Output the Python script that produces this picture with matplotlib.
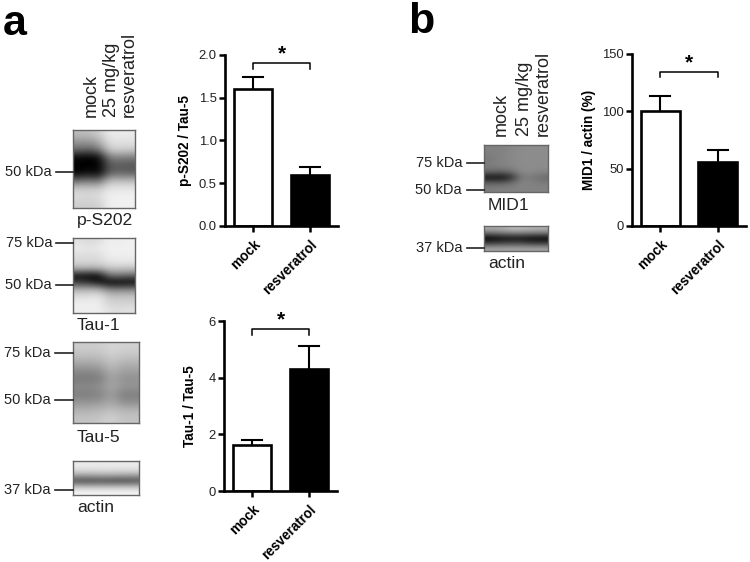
import numpy as np
from matplotlib import pyplot as plt

plt.rcParams['font.family'] = ['Liberation Sans', 'DejaVu Sans']

W, H = 750, 562

categories = ['mock', 'resveratrol']

ps202_vals = [1.6, 0.6]
ps202_tops = [1.74, 0.69]
tau1_vals = [1.62, 4.3]
tau1_tops = [1.8, 5.13]
mid1_vals = [100, 56]
mid1_tops = [113, 66]

# blot densities, 0 = black, 255 = white
blot_ps202 = [
    [190, 190, 205, 235, 235, 235],
    [150, 150, 170, 225, 225, 225],
    [110, 100, 120, 205, 210, 205],
    [5, 0, 5, 125, 130, 125],
    [0, 0, 0, 85, 90, 85],
    [0, 15, 0, 95, 100, 95],
    [110, 120, 110, 190, 190, 190],
    [205, 205, 205, 230, 230, 230],
    [220, 215, 220, 240, 240, 240],
    [205, 205, 205, 240, 240, 240],
]
blot_tau1 = [
    [225, 215, 220, 240, 235, 240],
    [235, 230, 235, 240, 240, 240],
    [220, 220, 220, 238, 238, 238],
    [215, 215, 215, 230, 230, 230],
    [175, 175, 175, 195, 195, 195],
    [15, 5, 5, 110, 115, 100],
    [60, 50, 20, 0, 0, 5],
    [175, 175, 175, 130, 130, 130],
    [220, 220, 230, 195, 195, 195],
    [238, 238, 238, 210, 210, 210],
    [238, 238, 238, 225, 220, 225],
]
blot_tau5 = [
    [205, 205, 205, 215, 210, 210],
    [195, 195, 195, 210, 200, 200],
    [170, 170, 175, 195, 180, 180],
    [140, 140, 145, 180, 160, 160],
    [120, 120, 125, 165, 145, 145],
    [140, 140, 145, 170, 150, 150],
    [125, 125, 130, 160, 125, 125],
    [150, 150, 155, 170, 145, 145],
    [180, 180, 185, 195, 185, 185],
    [195, 195, 200, 210, 195, 195],
]
blot_actin = [
    [235, 235, 235, 235, 235, 235],
    [225, 225, 225, 225, 225, 225],
    [165, 165, 170, 170, 165, 165],
    [75, 70, 75, 70, 70, 75],
    [190, 190, 190, 190, 190, 190],
    [245, 245, 245, 245, 245, 245],
]
blot_mid1 = [
    [130, 130, 135, 140, 140, 140],
    [125, 130, 135, 140, 140, 140],
    [120, 130, 135, 140, 140, 140],
    [125, 130, 135, 140, 140, 140],
    [110, 105, 115, 140, 138, 135],
    [10, 10, 30, 125, 120, 105],
    [105, 100, 115, 135, 130, 125],
    [125, 130, 130, 130, 130, 130],
]
blot_actin_b = [
    [180, 175, 195, 195, 185, 185],
    [115, 125, 135, 135, 130, 125],
    [0, 10, 15, 15, 5, 5],
    [60, 70, 75, 75, 60, 60],
    [165, 165, 165, 165, 165, 165],
]


def px_axes(fig, left, top, right, bottom):
    return fig.add_axes([left / W, 1 - bottom / H, (right - left) / W, (bottom - top) / H])


def plot_blot(fig, data, box):
    ax = px_axes(fig, *box)
    ax.imshow(np.array(data), cmap='gray', vmin=0, vmax=255, aspect='auto', interpolation='bicubic')
    ax.set_xticks([])
    ax.set_yticks([])
    for s in ax.spines.values():
        s.set_linewidth(1.0)
        s.set_color('#666666')


def plot_bars(fig, box, vals, tops, ymax, yticks, yticklabels, ylabel, brk, labelpad):
    ax = px_axes(fig, *box)
    x = [0, 1]
    ax.bar(x, vals, width=0.68, color=['white', 'black'], edgecolor='black', linewidth=1.9, zorder=2)
    for xi, v, t in zip(x, vals, tops):
        ax.plot([xi, xi], [v, t], color='black', lw=1.5, zorder=1, solid_capstyle='butt')
        ax.plot([xi - 0.17, xi + 0.17], [t, t], color='black', lw=1.5, zorder=1)
    ax.set_xlim(-0.49, 1.49)
    ax.set_ylim(0, ymax)
    ax.set_xticks(x)
    ax.set_xticklabels(categories, rotation=45, ha='right', rotation_mode='anchor',
                       fontweight='bold', fontsize=9.8)
    ax.set_yticks(yticks)
    ax.set_yticklabels(yticklabels, fontsize=9.4, color='#222222')
    ax.set_ylabel(ylabel, fontweight='bold', fontsize=9.8, labelpad=labelpad)
    ax.tick_params(length=4, width=1.8, pad=2, color='black')
    ax.tick_params(axis='x', pad=4)
    ax.spines['top'].set_visible(False)
    ax.spines['right'].set_visible(False)
    ax.spines['left'].set_linewidth(1.9)
    ax.spines['bottom'].set_linewidth(1.9)
    ylow, yhigh = brk
    ax.plot([0, 0, 1, 1], [ylow, yhigh, yhigh, ylow], color='black', lw=1.1, clip_on=False)
    ax.text(0.5, yhigh, '*', ha='center', va='bottom', fontsize=15, fontweight='bold')
    return ax


fig = plt.figure(figsize=(W / 100, H / 100), dpi=100, facecolor='white')

# overlay in image pixels for the panel letters and blot annotation
ov = fig.add_axes([0, 0, 1, 1], zorder=5)
ov.set_xlim(0, W)
ov.set_ylim(H, 0)
ov.axis('off')


def label(x, y, s, **kw):
    kw.setdefault('fontsize', 10.5)
    kw.setdefault('color', '#222222')
    ov.text(x, y, s, **kw)


def kda(x, y, s, x0, x1):
    label(x, y, s, ha='right', va='center')
    ov.plot([x0, x1], [y, y], color='#222222', lw=1.2)


plot_blot(fig, blot_ps202, (73, 130, 135, 208))
plot_blot(fig, blot_tau1, (73, 238, 135, 313))
plot_blot(fig, blot_tau5, (73, 342, 139, 423))
plot_blot(fig, blot_actin, (73, 461, 139, 495))
plot_blot(fig, blot_mid1, (484, 145, 548, 192))
plot_blot(fig, blot_actin_b, (484, 226, 548, 251))

label(3, 35, 'a', fontsize=31, fontweight='bold', color='black', va='baseline')
label(408, 33, 'b', fontsize=31, fontweight='bold', color='black', va='baseline')

for x, s in [(91, 'mock'), (111.5, '25 mg/kg'), (129, 'resveratrol')]:
    label(x, 117, s, rotation=90, ha='center', va='bottom', fontsize=13)
for x, s in [(501.5, 'mock'), (524.5, '25 mg/kg'), (543.5, 'resveratrol')]:
    label(x, 136, s, rotation=90, ha='center', va='bottom', fontsize=13)

kda(52, 172, '50 kDa', 56, 73)
kda(52, 243, '75 kDa', 56, 73)
kda(52, 285, '50 kDa', 56, 73)
kda(51, 353, '75 kDa', 55, 73)
kda(51, 400, '50 kDa', 55, 73)
kda(51, 490, '37 kDa', 55, 73)
kda(462, 163, '75 kDa', 467, 484)
kda(462, 190, '50 kDa', 467, 484)
kda(462, 248, '37 kDa', 467, 484)

for x, y, s in [(77, 220, 'p-S202'), (77, 326, 'Tau-1'), (77, 437, 'Tau-5'), (77, 508, 'actin'),
                (488, 206, 'MID1'), (488, 264, 'actin')]:
    label(x, y, s, fontsize=12.6, va='center')

plot_bars(fig, (225, 55, 338, 226), ps202_vals, ps202_tops, 2.0,
          [0, 0.5, 1.0, 1.5, 2.0], ['0.0', '0.5', '1.0', '1.5', '2.0'],
          'p-S202 / Tau-5', (1.84, 1.906), 5)
plot_bars(fig, (224, 321, 337, 491), tau1_vals, tau1_tops, 6,
          [0, 2, 4, 6], ['0', '2', '4', '6'],
          'Tau-1 / Tau-5', (5.5, 5.72), 8)
plot_bars(fig, (632, 54, 746, 226), mid1_vals, mid1_tops, 150,
          [0, 50, 100, 150], ['0', '50', '100', '150'],
          'MID1 / actin (%)', (130, 134), 4)

fig.savefig('out.png', dpi=100)
